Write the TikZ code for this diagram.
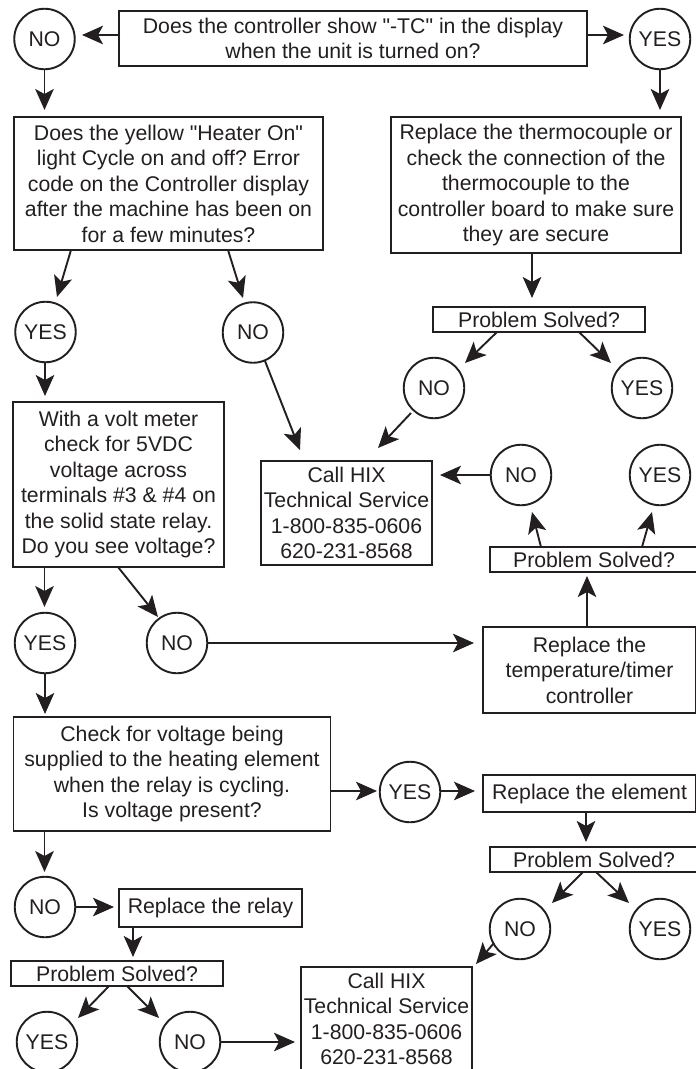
\documentclass[tikz,border=0pt]{standalone}
\usepackage{fontspec}
\newfontfamily\boxfont{Liberation Sans}
\usetikzlibrary{arrows.meta}
\definecolor{ink}{HTML}{231F20}
\tikzset{
  box/.style={draw=ink,line width=1.9pt,rectangle,inner sep=0pt,text=ink,align=center,font=\boxfont\fontsize{21.25}{25.5}\selectfont\frenchspacing},
  ball/.style={draw=ink,line width=1.9pt,circle,inner sep=0pt,minimum size=60.5pt,text=ink,font=\boxfont\fontsize{21.25}{25.5}\selectfont},
  arr/.style={draw=ink,line width=1.9pt,-{Stealth[length=21pt,width=18.5pt,inset=5pt]}}
}
\newcommand\linkarrow[6]{\draw[arr] ([shift={(#2,#3)}]#1.center) -- ([shift={(#5,#6)}]#4.center);}
\newcommand\boxat[6]{\node[box,minimum width=#4pt,minimum height=#5pt] (#1) at (#2,#3) {#6};}
\newcommand\ballat[4]{\node[ball] (#1) at (#2,#3) {#4};}
\begin{document}
\begin{tikzpicture}[x=1pt,y=-1pt]
\useasboundingbox[fill=white] (0,0) rectangle (696,1069);
\boxat{b1}{353}{38.5}{468}{55}{Does the controller show "-TC" in the display\\when the unit is turned on?}
\boxat{b2}{168.5}{183.5}{309}{133}{Does the yellow "Heater On"\\light Cycle on and off? Error\\code on the Controller display\\after the machine has been on\\for a few minutes?}
\boxat{b7}{536}{185}{290}{136}{Replace the thermocouple or\\check the connection of the\\thermocouple to the\\controller board to make sure\\they are secure}
\boxat{b3}{118.5}{484.5}{211}{165}{With a volt meter\\check for 5VDC\\voltage across\\terminals \#3 \& \#4 on\\the solid state relay.\\Do you see voltage?}
\boxat{call1}{346.5}{513}{171}{104}{Call HIX\\Technical Service\\1-800-835-0606\\620-231-8568}
\boxat{rep}{589.5}{670}{213}{86}{Replace the\\temperature/timer\\controller}
\boxat{ps1}{539}{319.5}{212}{25}{Problem Solved?}
\boxat{ps2}{594}{559.5}{208}{25}{Problem Solved?}
\boxat{b4}{172}{774}{317}{114}{Check for voltage being\\supplied to the heating element\\when the relay is cycling.\\Is voltage present?}
\boxat{b5}{589.5}{793.5}{213}{37}{Replace the element}
\boxat{ps4}{594}{859.5}{208}{25}{Problem Solved?}
\boxat{relay}{210.5}{908}{183}{38}{Replace the relay}
\boxat{ps3}{117}{973.5}{212}{25}{Problem Solved?}
\boxat{call2}{386.5}{1019}{171}{104}{Call HIX\\Technical Service\\1-800-835-0606\\620-231-8568}
\ballat{no1}{44.5}{39}{NO}
\ballat{yes1}{660}{39}{YES}
\ballat{yes2}{45.5}{332}{YES}
\ballat{no2}{253}{332.5}{NO}
\ballat{yes3}{45}{643}{YES}
\ballat{no3}{177}{643}{NO}
\ballat{no4}{521}{475}{NO}
\ballat{yes4}{660}{475}{YES}
\ballat{no5}{434}{388}{NO}
\ballat{yes5}{642}{388}{YES}
\ballat{yes6}{410}{792}{YES}
\ballat{no8}{520}{929}{NO}
\ballat{yes8}{660}{929}{YES}
\ballat{no6}{45}{907}{NO}
\ballat{yes7}{47}{1042}{YES}
\ballat{no7}{190}{1042}{NO}
\linkarrow{b1}{-235}{-3.5}{no1}{37.5}{-4}
\linkarrow{b1}{235}{-3.5}{yes1}{-36}{-4}
\linkarrow{no1}{0}{31}{b2}{-124}{-73.5}
\linkarrow{yes1}{0}{31}{b7}{124}{-75}
\linkarrow{b2}{-97.5}{66.5}{yes2}{11.5}{-35}
\linkarrow{b2}{59.5}{66.5}{no2}{-10}{-34.5}
\linkarrow{yes2}{-0.5}{30}{b3}{-73.5}{-88.5}
\linkarrow{b3}{-74}{82.5}{yes3}{-0.5}{-36}
\linkarrow{b3}{-0.5}{82.5}{no3}{-19}{-26}
\linkarrow{yes3}{0}{31}{b4}{-127}{-60}
\linkarrow{no2}{12}{28.5}{call1}{-46.5}{-63}
\linkarrow{no3}{31}{0}{rep}{-115.5}{-27}
\linkarrow{rep}{-2.5}{-43}{ps2}{-7}{16.5}
\linkarrow{ps2}{-53}{-12.5}{no4}{11}{37}
\linkarrow{ps2}{48}{-12.5}{yes4}{-8}{37}
\linkarrow{no4}{-31}{0}{call1}{93.5}{-38}
\linkarrow{b7}{-4}{68}{ps1}{-7}{-21.5}
\linkarrow{ps1}{-42}{12.5}{no5}{31}{-25}
\linkarrow{ps1}{40}{12.5}{yes5}{-31}{-25}
\linkarrow{no5}{-23}{25}{call1}{31.5}{-65}
\linkarrow{b4}{158}{17}{yes6}{-33}{-1}
\linkarrow{yes6}{31}{-1}{b5}{-114.5}{-2.5}
\linkarrow{b5}{-3.5}{18.5}{ps4}{-8}{-17.5}
\linkarrow{ps4}{-11}{12.5}{no8}{32}{-26}
\linkarrow{ps4}{2}{12.5}{yes8}{-31}{-26}
\linkarrow{no8}{-26}{14}{call2}{89.5}{-55}
\linkarrow{b4}{-127.5}{57}{no6}{-0.5}{-35}
\linkarrow{no6}{31}{0}{relay}{-96.5}{-1}
\linkarrow{relay}{-77.5}{19}{ps3}{16}{-16.5}
\linkarrow{ps3}{-8}{12.5}{yes7}{31}{-24}
\linkarrow{ps3}{10}{12.5}{no7}{-31}{-24}
\linkarrow{no7}{31}{0}{call2}{-91.5}{23}
\end{tikzpicture}
\end{document}
